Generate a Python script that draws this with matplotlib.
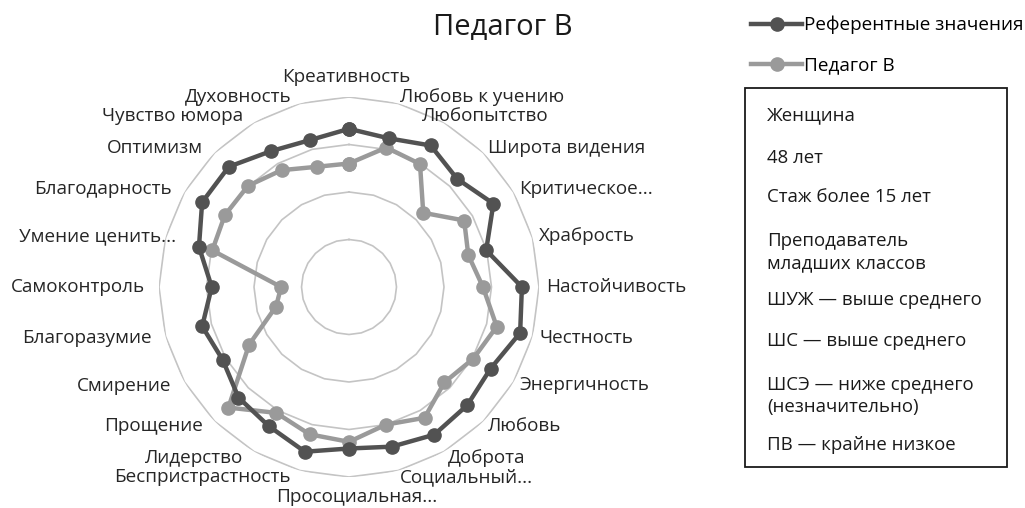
import numpy as np
import matplotlib.pyplot as plt
from matplotlib.lines import Line2D
from matplotlib.patches import Rectangle

plt.rcParams['font.family'] = ['Open Sans', 'DejaVu Sans']

categories = ['Креативность', 'Любовь к учению', 'Любопытство', 'Широта видения',
              'Критическое...', 'Храбрость', 'Настойчивость', 'Честность',
              'Энергичность', 'Любовь', 'Доброта', 'Социальный...',
              'Просоциальная...', 'Беспристрастность', 'Лидерство', 'Прощение',
              'Смирение', 'Благоразумие', 'Самоконтроль', 'Умение ценить...',
              'Благодарность', 'Оптимизм', 'Чувство юмора', 'Духовность']

reference = [3.33, 3.24, 3.44, 3.22, 3.51, 2.99, 3.64, 3.73, 3.44, 3.52, 3.59, 3.48,
             3.40, 3.59, 3.38, 3.29, 3.07, 3.20, 2.89, 3.27, 3.57, 3.58, 3.30, 3.20]
teacher = [2.60, 3.04, 2.99, 2.21, 2.80, 2.60, 2.82, 3.22, 3.02, 2.84, 3.18, 3.00,
           3.26, 3.21, 3.06, 3.59, 2.43, 1.59, 1.43, 2.98, 3.02, 3.01, 2.84, 2.62]

info_lines = ['Женщина', '48 лет', 'Стаж более 15 лет', 'Преподаватель\nмладших классов',
              'ШУЖ — выше среднего', 'ШС — выше среднего',
              'ШСЭ — ниже среднего\n(незначительно)', 'ПВ — крайне низкое']

W, H = 1025, 508
fig = plt.figure(figsize=(W / 100, H / 100), dpi=100)
cx, cy, R = 349, 287, 190
ax = fig.add_axes([(cx - R) / W, (H - cy - R) / H, 2 * R / W, 2 * R / H], projection='polar')
ax.set_theta_zero_location('N')
ax.set_theta_direction(-1)
ax.set_ylim(0, 4)
ax.grid(False)
ax.set_xticks([])
ax.set_yticks([])
ax.spines['polar'].set_visible(False)
ax.patch.set_alpha(0)

n = len(categories)
theta = np.arange(n) * 2 * np.pi / n
theta_c = np.append(theta, theta[0])

for level in [1, 2, 3, 4]:
    ax.plot(theta_c, [level] * (n + 1), color='#c4c4c4', lw=1.2, zorder=1)

dark = '#525252'
light = '#9a9a9a'
ax.plot(theta_c, teacher + teacher[:1], color=light, lw=3.2, marker='o', ms=9.5, zorder=3)
ax.plot(theta_c, reference + reference[:1], color=dark, lw=3.2, marker='o', ms=9.5, zorder=4)

# category labels
nudge = {0: (-3, 13), 2: (-26, 0), 12: (8, -13), 19: (24, 0)}
rr = 197
for i, (t, lab) in enumerate(zip(theta, categories)):
    s, c = np.sin(t), np.cos(t)
    dx, dy = nudge.get(i, (0, 0))
    if abs(s) < 1e-6:
        ha = 'center'
    elif s > 0:
        ha = 'left'
    else:
        ha = 'right'
        dx -= 7
    x = cx + rr * s + dx
    y = cy - rr * c - dy
    fig.text(x / W, 1 - y / H, lab, ha=ha, va='center', fontsize=13.6, color='#262626')

fig.text(503 / W, 1 - 27 / H, 'Педагог В', ha='center', va='center', fontsize=21, color='#1a1a1a')

# legend
handles = [Line2D([], [], color=dark, lw=3.2, marker='o', ms=9.5),
           Line2D([], [], color=light, lw=3.2, marker='o', ms=9.5)]
fig.legend(handles, ['Референтные значения', 'Педагог В'], loc='upper left',
           bbox_to_anchor=(751 / W, 1 - 16 / H), frameon=False, fontsize=13.6,
           handlelength=2.7, handletextpad=0.1, labelspacing=1.15, borderaxespad=0,
           borderpad=0)

# info box
fig.patches.append(Rectangle((745 / W, 1 - 467 / H), 262 / W, 379 / H,
                             transform=fig.transFigure, fill=False, ec='#1a1a1a', lw=1.3))
ys = [115, 158, 197, 252, 300, 341, 396, 445]
for y, txt in zip(ys, info_lines):
    fig.text(767 / W, 1 - y / H, txt, ha='left', va='center', fontsize=13.4,
             color='#1a1a1a', linespacing=1.25)

fig.savefig('out.png', dpi=100)
